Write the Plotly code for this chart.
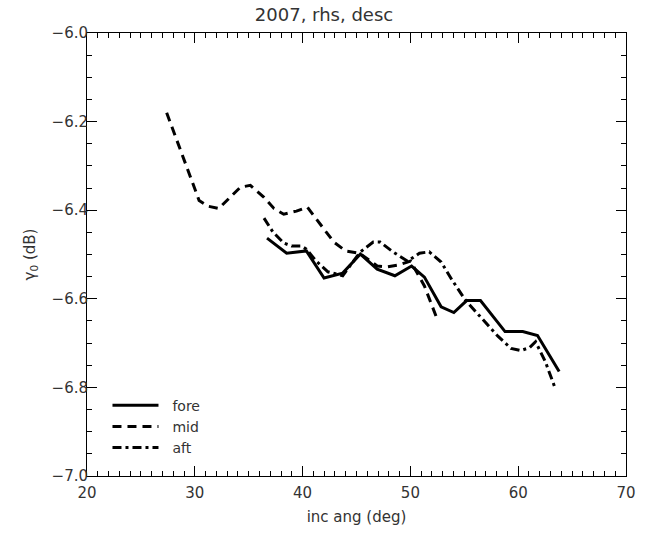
import plotly.graph_objects as go

fore_x = [36.70, 38.52, 40.35, 41.99, 43.72, 45.36, 46.92, 48.56, 50.11, 51.30, 52.85, 54.03, 55.22, 56.50, 58.78, 60.42, 61.79, 63.80]
fore_y = [-6.463, -6.497, -6.492, -6.553, -6.542, -6.499, -6.533, -6.548, -6.526, -6.551, -6.618, -6.631, -6.604, -6.604, -6.674, -6.674, -6.683, -6.764]

mid_x = [27.39, 30.40, 31.22, 32.23, 34.23, 35.15, 36.42, 37.34, 38.25, 39.43, 40.44, 41.44, 42.90, 44.00, 45.27, 46.92, 47.83, 48.83, 50.02, 51.30, 52.39]
mid_y = [-6.180, -6.378, -6.391, -6.396, -6.348, -6.344, -6.371, -6.396, -6.409, -6.402, -6.393, -6.425, -6.472, -6.492, -6.497, -6.526, -6.528, -6.524, -6.515, -6.571, -6.640]

aft_x = [36.42, 37.24, 38.25, 38.98, 39.89, 40.35, 41.26, 42.35, 43.72, 45.36, 46.55, 47.19, 48.38, 49.74, 50.84, 51.75, 52.85, 53.85, 55.13, 56.77, 58.14, 59.33, 60.24, 61.06, 61.61, 62.52, 63.43]
aft_y = [-6.418, -6.449, -6.474, -6.481, -6.481, -6.488, -6.515, -6.539, -6.548, -6.494, -6.472, -6.472, -6.494, -6.515, -6.497, -6.494, -6.517, -6.557, -6.604, -6.647, -6.685, -6.712, -6.717, -6.710, -6.697, -6.742, -6.802]

x_ticks = [20, 30, 40, 50, 60, 70]
y_ticks = [-6.0, -6.2, -6.4, -6.6, -6.8, -7.0]
y_labels = ["\u22126.0", "\u22126.2", "\u22126.4", "\u22126.6", "\u22126.8", "\u22127.0"]

FONT = "DejaVu Sans"
TXT = "#333333"

fig = go.Figure()
fig.add_trace(go.Scatter(x=fore_x, y=fore_y, mode="lines", name="\u00a0\u00a0fore",
                         line=dict(color="black", width=3, dash="solid")))
fig.add_trace(go.Scatter(x=mid_x, y=mid_y, mode="lines", name="\u00a0\u00a0mid",
                         line=dict(color="black", width=3, dash="9px,6px")))
fig.add_trace(go.Scatter(x=aft_x, y=aft_y, mode="lines", name="\u00a0\u00a0aft",
                         line=dict(color="black", width=3, dash="9px,4px,3px,4px")))

axis_common = dict(
    showgrid=False, zeroline=False, showline=True, linecolor="black", linewidth=1,
    mirror="allticks", ticks="inside", ticklen=10, tickwidth=1, tickcolor="black",
    tickfont=dict(family=FONT, size=15, color=TXT),
)

fig.update_xaxes(range=[20, 70], tickvals=x_ticks, ticktext=[str(v) for v in x_ticks],
                 minor=dict(dtick=1, ticks="inside", ticklen=5, tickcolor="black", showgrid=False),
                 ticklabelstandoff=3,
                 title=dict(text="inc ang (deg)", font=dict(family=FONT, size=15, color=TXT), standoff=10),
                 **axis_common)
fig.update_yaxes(range=[-7.0, -6.0], tickvals=y_ticks, ticktext=y_labels,
                 minor=dict(dtick=0.05, ticks="inside", ticklen=5, tickcolor="black", showgrid=False),
                 ticklabelstandoff=-5,
                 title=dict(text="\u03b3<sub>0</sub> (dB)", font=dict(family=FONT, size=15, color=TXT), standoff=12),
                 **axis_common)

fig.update_layout(
    width=648, height=535,
    margin=dict(l=87, r=13, t=33, b=56),
    plot_bgcolor="white", paper_bgcolor="white",
    title=dict(text="2007, rhs, desc", x=0.5, xanchor="center", y=0.972, yanchor="middle",
               font=dict(family=FONT, size=18, color=TXT)),
    showlegend=True,
    legend=dict(x=0.038, y=0.195, xanchor="left", yanchor="top", bgcolor="rgba(0,0,0,0)",
                font=dict(family=FONT, size=14, color=TXT), tracegroupgap=0, itemwidth=46),
)

fig.write_html("out.html")
